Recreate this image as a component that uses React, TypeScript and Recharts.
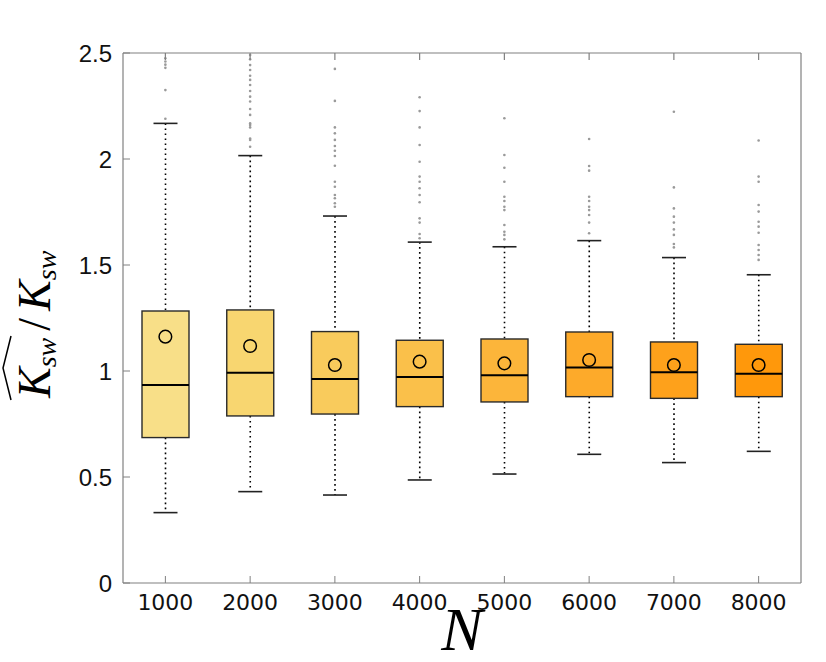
import { ComposedChart, Bar, Scatter, XAxis, YAxis } from 'recharts'

const categories = ['1000', '2000', '3000', '4000', '5000', '6000', '7000', '8000']
const whiskerLow = [0.332, 0.431, 0.415, 0.486, 0.514, 0.607, 0.568, 0.621]
const q1 = [0.686, 0.788, 0.797, 0.832, 0.854, 0.879, 0.871, 0.879]
const median = [0.934, 0.992, 0.962, 0.972, 0.98, 1.016, 0.994, 0.987]
const q3 = [1.283, 1.288, 1.186, 1.145, 1.151, 1.184, 1.137, 1.126]
const whiskerHigh = [2.168, 2.016, 1.731, 1.608, 1.586, 1.615, 1.535, 1.454]
const means = [1.162, 1.118, 1.028, 1.044, 1.036, 1.052, 1.028, 1.028]
const outliers = [
  [2.19, 2.325, 2.43, 2.445, 2.46, 2.475],
  [2.058, 2.09, 2.097, 2.149, 2.16, 2.168, 2.208, 2.236, 2.271, 2.294, 2.321, 2.349, 2.373, 2.393, 2.42, 2.443, 2.47, 2.49],
  [1.775, 1.791, 1.815, 1.83, 1.869, 1.893, 1.968, 2.014, 2.039, 2.061, 2.09, 2.121, 2.149, 2.274, 2.425],
  [1.626, 1.646, 1.7, 1.72, 1.796, 1.83, 1.862, 1.893, 1.917, 1.987, 2.066, 2.149, 2.226, 2.291],
  [1.621, 1.642, 1.657, 1.689, 1.759, 1.775, 1.802, 1.822, 1.893, 1.959, 2.019, 2.192],
  [1.65, 1.7, 1.736, 1.759, 1.775, 1.802, 1.822, 1.945, 1.967, 2.094],
  [1.583, 1.599, 1.642, 1.668, 1.7, 1.728, 1.767, 1.866, 2.223],
  [1.524, 1.547, 1.571, 1.594, 1.652, 1.681, 1.704, 1.752, 1.783, 1.893, 1.917, 2.087],
]
const yTicks = [0, 0.5, 1, 1.5, 2, 2.5]

const boxColors = ['#F8DF88', '#F8D670', '#F9CB5C', '#FAC04A', '#FCB53A', '#FDAA2A', '#FEA11B', '#FF980B']
const AXIS = '#808080'

const data = categories.map((n, i) => ({
  n,
  range: [whiskerLow[i], whiskerHigh[i]],
  q1: q1[i],
  median: median[i],
  q3: q3[i],
  mean: means[i],
  color: boxColors[i],
}))

const outlierData = categories.flatMap((n, i) => outliers[i].map((v) => ({ n, v })))

function BoxShape(props: any) {
  const { x, y, width, height, payload } = props
  const [lo, hi] = payload.range
  const py = (v: number) => y + ((hi - v) / (hi - lo)) * height
  const cx = x + width / 2
  const capW = 12
  const top = py(payload.q3)
  const bot = py(payload.q1)
  return (
    <g>
      <line x1={cx} x2={cx} y1={y} y2={top} stroke="#000" strokeWidth={1.6} strokeDasharray="1.6 3.4" />
      <line x1={cx} x2={cx} y1={bot} y2={y + height} stroke="#000" strokeWidth={1.6} strokeDasharray="1.6 3.4" />
      <line x1={cx - capW} x2={cx + capW} y1={y} y2={y} stroke="#222" strokeWidth={1.6} />
      <line x1={cx - capW} x2={cx + capW} y1={y + height} y2={y + height} stroke="#222" strokeWidth={1.6} />
      <rect x={x} y={top} width={width} height={bot - top} fill={payload.color} stroke="#2a2a2a" strokeWidth={1.4} />
      <line x1={x} x2={x + width} y1={py(payload.median)} y2={py(payload.median)} stroke="#000" strokeWidth={2} />
    </g>
  )
}

const MeanDot = (p: any) => <circle cx={p.cx} cy={p.cy} r={6.3} fill="none" stroke="#000" strokeWidth={1.5} />
const OutDot = (p: any) => <circle cx={p.cx} cy={p.cy} r={1.3} fill="#9a9a9a" />

const BottomTick = ({ x, y, payload }: any) => (
  <g>
    <line x1={x} x2={x} y1={y} y2={y - 7} stroke={AXIS} />
    <text x={x} y={y + 27} textAnchor="middle" fontFamily="DejaVu Sans" fontSize={22} fill="#111">{payload.value}</text>
  </g>
)
const TopTick = ({ x, y }: any) => <line x1={x} x2={x} y1={y} y2={y + 7} stroke={AXIS} strokeWidth={1.2} />
const LeftTick = ({ x, y, payload }: any) => (
  <g>
    <line x1={x} x2={x + 7} y1={y} y2={y} stroke={AXIS} />
    <text x={x - 11} y={y} dy="0.36em" textAnchor="end" fontFamily="Liberation Sans, Arial" fontSize={24} fill="#111">{payload.value}</text>
  </g>
)
const RightTick = ({ x, y }: any) => <line x1={x} x2={x - 7} y1={y} y2={y} stroke={AXIS} strokeWidth={1.2} />

const NLabel = ({ viewBox }: any) => (
  <text x={viewBox.x + viewBox.width / 2} y={650} textAnchor="middle" fontFamily="Liberation Serif, Times New Roman" fontStyle="italic" fontSize={62} fill="#000">N</text>
)

const YLabel = () => (
  <g transform="translate(50, 318) rotate(-90)">
    <text x={-80} y={0} fontFamily="Liberation Serif, Times New Roman" fontStyle="italic" fill="#000" fontSize={46}>
      <tspan>K</tspan>
      <tspan fontSize={28} dy={6} dx={0}>sw</tspan>
      <tspan dy={-6} dx={7} fontStyle="normal">/</tspan>
      <tspan dx={7}>K</tspan>
      <tspan fontSize={28} dy={6} dx={0}>sw</tspan>
    </text>
    <path d="M -82 -39 L -50 -47 L -18 -39" fill="none" stroke="#000" strokeWidth={1.5} />
  </g>
)

export default function App() {
  return (
    <div style={{ position: 'absolute', left: 0, top: 0, background: '#fff' }}>
      <ComposedChart width={826} height={662} data={data} margin={{ top: 52, right: 24, bottom: 0, left: 0 }}>
        <XAxis
          xAxisId="b"
          dataKey="n"
          type="category"
          allowDuplicatedCategory={false}
          height={79}
          axisLine={{ stroke: AXIS, strokeWidth: 1.2 }}
          tickLine={false}
          tickSize={0}
          tickMargin={0}
          tick={<BottomTick />}
          interval={0}
          label={<NLabel />}
        />
        <XAxis
          xAxisId="t"
          dataKey="n"
          type="category"
          orientation="top"
          allowDuplicatedCategory={false}
          height={1}
          axisLine={{ stroke: AXIS, strokeWidth: 1.2 }}
          tickLine={false}
          tickSize={0}
          tickMargin={0}
          tick={<TopTick />}
          interval={0}
        />
        <YAxis
          yAxisId="l"
          type="number"
          domain={[0, 2.5]}
          ticks={yTicks}
          width={123}
          axisLine={{ stroke: AXIS, strokeWidth: 1.2 }}
          tickLine={false}
          tickSize={0}
          tickMargin={0}
          tick={<LeftTick />}
          label={<YLabel />}
        />
        <YAxis
          yAxisId="r"
          orientation="right"
          type="number"
          domain={[0, 2.5]}
          ticks={yTicks}
          width={1}
          axisLine={{ stroke: AXIS, strokeWidth: 1.2 }}
          tickLine={false}
          tickSize={0}
          tickMargin={0}
          tick={<RightTick />}
        />
        <Bar xAxisId="b" yAxisId="l" dataKey="range" barSize={47} shape={<BoxShape />} isAnimationActive={false} />
        <Scatter xAxisId="b" yAxisId="l" data={outlierData} dataKey="v" shape={<OutDot />} isAnimationActive={false} />
        <Scatter xAxisId="b" yAxisId="l" dataKey="mean" shape={<MeanDot />} isAnimationActive={false} />
      </ComposedChart>
    </div>
  )
}
